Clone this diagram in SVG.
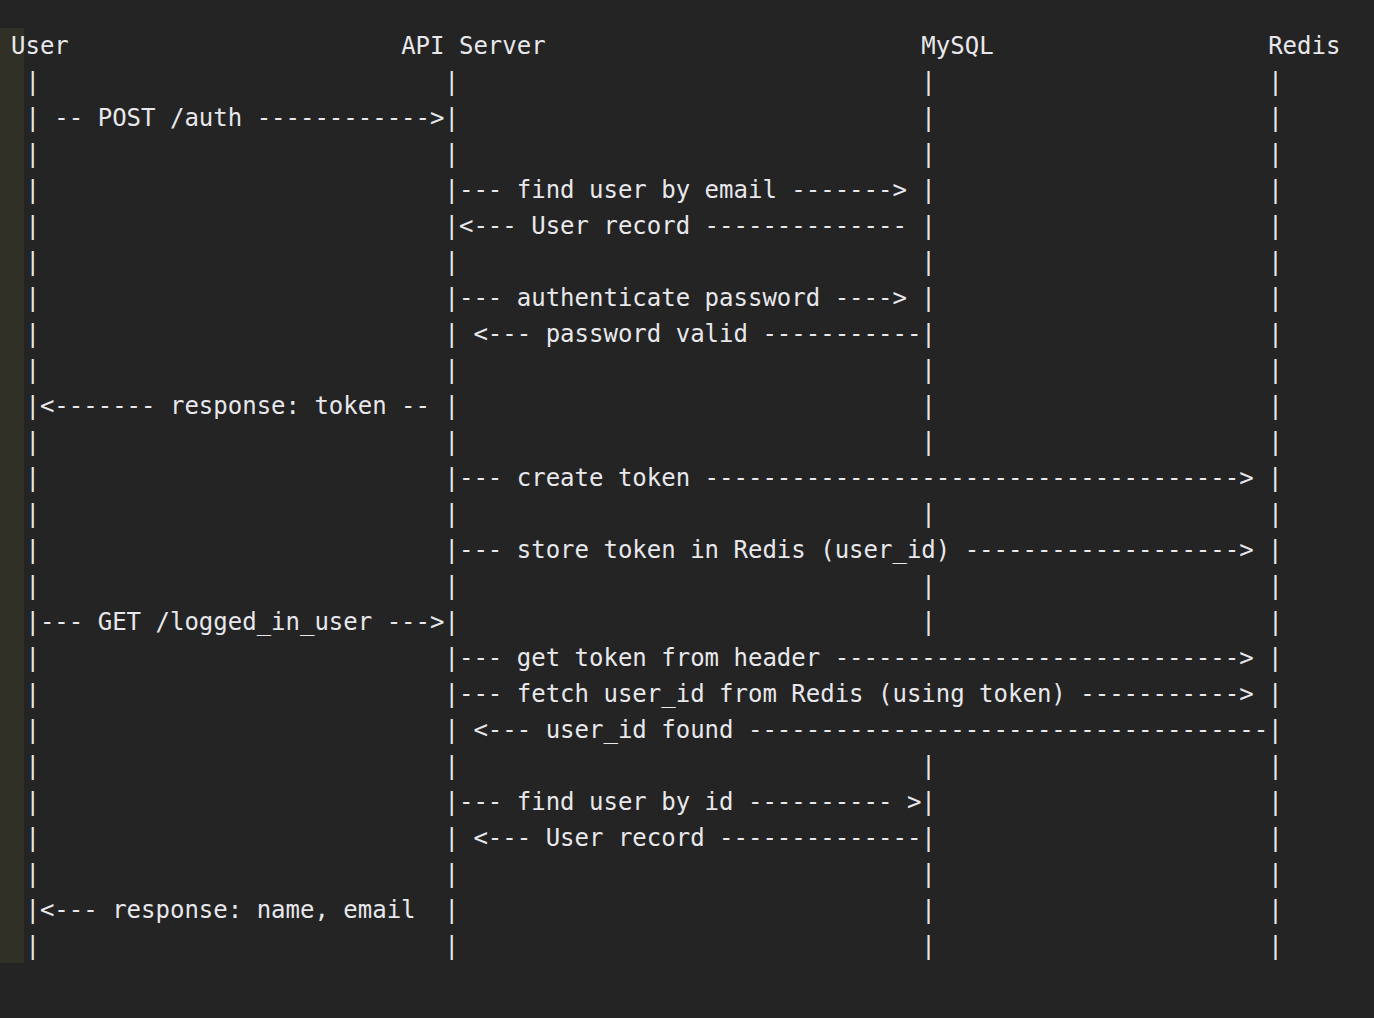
<svg xmlns="http://www.w3.org/2000/svg" width="1374" height="1018" viewBox="0 0 1374 1018" xml:space="preserve">
<style>
text { font-family: "DejaVu Sans Mono", "Liberation Mono", monospace; font-size: 24px; fill: #e8e8ec; white-space: pre; }
</style>
<rect x="0" y="0" width="1374" height="1018" fill="#242424"/>
<rect x="0" y="28" width="24" height="935" fill="#303026"/>
<g id="user">
<text x="11" y="54">User</text>
<text x="25.45"><tspan x="25.45" y="90">|</tspan><tspan x="25.45" y="162">|</tspan><tspan x="25.45" y="198">|</tspan><tspan x="25.45" y="234">|</tspan><tspan x="25.45" y="270">|</tspan><tspan x="25.45" y="306">|</tspan><tspan x="25.45" y="342">|</tspan><tspan x="25.45" y="378">|</tspan><tspan x="25.45" y="450">|</tspan><tspan x="25.45" y="486">|</tspan><tspan x="25.45" y="522">|</tspan><tspan x="25.45" y="558">|</tspan><tspan x="25.45" y="594">|</tspan><tspan x="25.45" y="666">|</tspan><tspan x="25.45" y="702">|</tspan><tspan x="25.45" y="738">|</tspan><tspan x="25.45" y="774">|</tspan><tspan x="25.45" y="810">|</tspan><tspan x="25.45" y="846">|</tspan><tspan x="25.45" y="882">|</tspan><tspan x="25.45" y="954">|</tspan></text>
</g>
<g id="api-server">
<text x="401.15" y="54">API Server</text>
<text x="444.5"><tspan x="444.5" y="90">|</tspan><tspan x="444.5" y="162">|</tspan><tspan x="444.5" y="270">|</tspan><tspan x="444.5" y="378">|</tspan><tspan x="444.5" y="450">|</tspan><tspan x="444.5" y="522">|</tspan><tspan x="444.5" y="594">|</tspan><tspan x="444.5" y="774">|</tspan><tspan x="444.5" y="882">|</tspan><tspan x="444.5" y="954">|</tspan></text>
</g>
<g id="mysql">
<text x="921.35" y="54">MySQL</text>
<text x="921.35"><tspan x="921.35" y="90">|</tspan><tspan x="921.35" y="126">|</tspan><tspan x="921.35" y="162">|</tspan><tspan x="921.35" y="270">|</tspan><tspan x="921.35" y="378">|</tspan><tspan x="921.35" y="414">|</tspan><tspan x="921.35" y="450">|</tspan><tspan x="921.35" y="522">|</tspan><tspan x="921.35" y="594">|</tspan><tspan x="921.35" y="630">|</tspan><tspan x="921.35" y="774">|</tspan><tspan x="921.35" y="882">|</tspan><tspan x="921.35" y="918">|</tspan><tspan x="921.35" y="954">|</tspan></text>
</g>
<g id="redis">
<text x="1268.15" y="54">Redis</text>
<text x="1268.15"><tspan x="1268.15" y="90">|</tspan><tspan x="1268.15" y="126">|</tspan><tspan x="1268.15" y="162">|</tspan><tspan x="1268.15" y="198">|</tspan><tspan x="1268.15" y="234">|</tspan><tspan x="1268.15" y="270">|</tspan><tspan x="1268.15" y="306">|</tspan><tspan x="1268.15" y="342">|</tspan><tspan x="1268.15" y="378">|</tspan><tspan x="1268.15" y="414">|</tspan><tspan x="1268.15" y="450">|</tspan><tspan x="1268.15" y="522">|</tspan><tspan x="1268.15" y="594">|</tspan><tspan x="1268.15" y="630">|</tspan><tspan x="1268.15" y="774">|</tspan><tspan x="1268.15" y="810">|</tspan><tspan x="1268.15" y="846">|</tspan><tspan x="1268.15" y="882">|</tspan><tspan x="1268.15" y="918">|</tspan><tspan x="1268.15" y="954">|</tspan></text>
</g>
<g id="connectors">
<text x="25.45" y="126">| -- POST /auth ------------&gt;|</text>
<text x="444.5" y="198">|--- find user by email -------&gt; |</text>
<text x="444.5" y="234">|&lt;--- User record -------------- |</text>
<text x="444.5" y="306">|--- authenticate password ----&gt; |</text>
<text x="444.5" y="342">| &lt;--- password valid -----------|</text>
<text x="25.45" y="414">|&lt;------- response: token -- |</text>
<text x="444.5" y="486">|--- create token -------------------------------------&gt; |</text>
<text x="444.5" y="558">|--- store token in Redis (user_id) -------------------&gt; |</text>
<text x="25.45" y="630">|--- GET /logged_in_user ---&gt;|</text>
<text x="444.5" y="666">|--- get token from header ----------------------------&gt; |</text>
<text x="444.5" y="702">|--- fetch user_id from Redis (using token) -----------&gt; |</text>
<text x="444.5" y="738">| &lt;--- user_id found ------------------------------------|</text>
<text x="444.5" y="810">|--- find user by id ---------- &gt;|</text>
<text x="444.5" y="846">| &lt;--- User record --------------|</text>
<text x="25.45" y="918">|&lt;--- response: name, email  |</text>
</g>
</svg>
